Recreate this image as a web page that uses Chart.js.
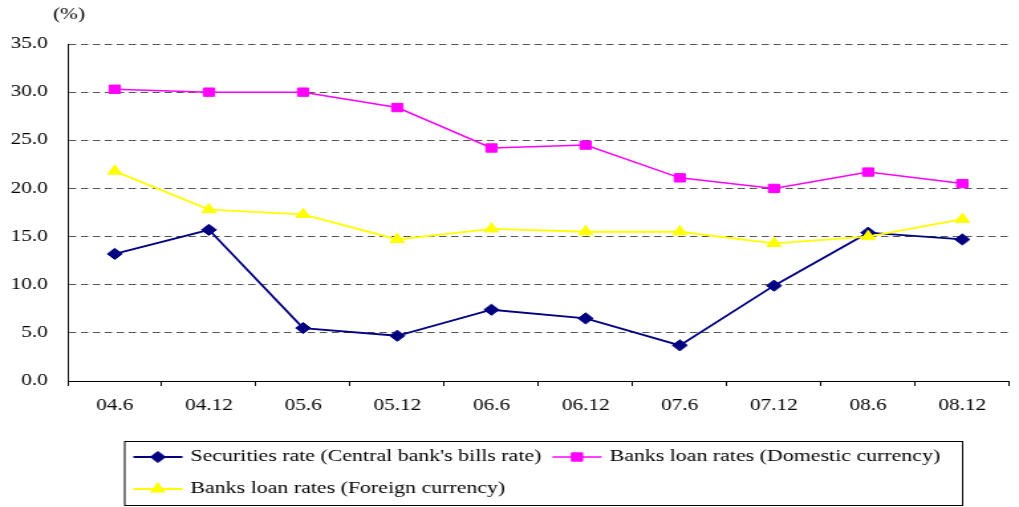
<!DOCTYPE html>
<html>
<head>
<meta charset="utf-8">
<title>Interest rates</title>
<script src="https://cdn.jsdelivr.net/npm/chart.js@4.4.1/dist/chart.umd.min.js"></script>
<style>
  html, body { margin: 0; padding: 0; background: #fff; }
  #rates { display: block; }
</style>
</head>
<body>
<canvas id="rates" width="768" height="507"></canvas>
<script>
// Half-year periods (yy.m)
const periods = ['04.6', '04.12', '05.6', '05.12', '06.6', '06.12', '07.6', '07.12', '08.6', '08.12'];

// Rates, percent
const billsRate    = [13.2, 15.7, 5.5, 4.7, 7.4, 6.5, 3.7, 9.9, 15.4, 14.7];
const loanDomestic = [30.3, 30.0, 30.0, 28.4, 24.2, 24.5, 21.1, 20.0, 21.7, 20.5];
const loanForeign  = [21.8, 17.8, 17.3, 14.7, 15.8, 15.5, 15.5, 14.3, 15.0, 16.8];

const seriesNames = [
  "Securities rate (Central bank's bills rate)",
  'Banks loan rates (Domestic currency)',
  'Banks loan rates (Foreign currency)'
];

// Value axis ticks
const yTicks = [0, 5, 10, 15, 20, 25, 30, 35];
const unitLabel = '(%)';

const SERIF = "'Liberation Serif', 'Times New Roman', serif";

// Framed legend drawn below the plot: line + marker, then the series name
const framedLegend = {
  id: 'framedLegend',
  afterDraw(chart, args, o) {
    const ctx = chart.ctx;
    ctx.save();
    ctx.strokeStyle = '#000';
    ctx.lineWidth = 1;
    ctx.strokeRect(o.left + 0.5, o.top + 0.5, o.right - o.left, o.bottom - o.top);

    ctx.font = o.font;
    ctx.textBaseline = 'middle';
    ctx.textAlign = 'left';
    let x = o.left + o.inset;
    let row = 0;
    chart.data.datasets.forEach(ds => {
      const w = o.lineLen + o.textGap + ctx.measureText(ds.label).width;
      if (x + w > o.right - o.inset && x > o.left + o.inset) {
        row++;
        x = o.left + o.inset;
      }
      const y = o.firstRow + row * o.rowGap;
      ctx.strokeStyle = ds.borderColor;
      ctx.lineWidth = ds.borderWidth;
      ctx.beginPath();
      ctx.moveTo(x, y);
      ctx.lineTo(x + o.lineLen, y);
      ctx.stroke();

      ctx.fillStyle = ds.pointBackgroundColor;
      ctx.strokeStyle = ds.pointBorderColor;
      ctx.lineWidth = 1;
      Chart.helpers.drawPoint(ctx, { pointStyle: ds.pointStyle, radius: ds.pointRadius, borderWidth: 1, rotation: 0 },
        x + o.lineLen / 2, y);

      ctx.fillStyle = '#000';
      ctx.fillText(ds.label, x + o.lineLen + o.textGap, y);
      x += w + o.itemGap;
    });
    ctx.restore();
  }
};

// "(%)" unit note above the value axis
const unitNote = {
  id: 'unitNote',
  afterDraw(chart, args, o) {
    const ctx = chart.ctx;
    ctx.save();
    ctx.font = o.font;
    ctx.fillStyle = '#000';
    ctx.textAlign = 'center';
    ctx.textBaseline = 'middle';
    ctx.fillText(unitLabel, chart.chartArea.left + o.dx, o.y);
    ctx.restore();
  }
};

const canvas = document.getElementById('rates');

new Chart(canvas, {
  type: 'line',
  data: {
    labels: periods,
    datasets: [
      {
        label: seriesNames[0],
        data: billsRate,
        borderColor: '#000080',
        backgroundColor: '#000080',
        pointBackgroundColor: '#000080',
        pointBorderColor: '#000080',
        borderWidth: 1.8,
        pointStyle: 'rectRot',
        pointRadius: 5.6,
        pointBorderWidth: 1,
        order: 2
      },
      {
        label: seriesNames[1],
        data: loanDomestic,
        borderColor: '#ff00ff',
        backgroundColor: '#ff00ff',
        pointBackgroundColor: '#ff00ff',
        pointBorderColor: '#ff00ff',
        borderWidth: 1.5,
        pointStyle: 'rect',
        pointRadius: 5.9,
        pointBorderWidth: 1,
        order: 1
      },
      {
        label: seriesNames[2],
        data: loanForeign,
        borderColor: '#ffff00',
        backgroundColor: '#ffff00',
        pointBackgroundColor: '#ffff00',
        pointBorderColor: '#ffff00',
        borderWidth: 1.8,
        pointStyle: 'triangle',
        pointRadius: 6.2,
        pointBorderWidth: 1,
        order: 0
      }
    ]
  },
  options: {
    responsive: false,
    devicePixelRatio: 1,
    animation: false,
    events: [],
    layout: { padding: { top: 44, right: 1.5, bottom: 0, left: 0 } },
    elements: { line: { tension: 0 } },
    scales: {
      x: {
        type: 'category',
        offset: true,
        afterFit(scale) { scale.height = 126; },
        grid: {
          display: true,
          offset: true,
          drawOnChartArea: false,
          drawTicks: true,
          tickLength: 5,
          color: '#000',
          lineWidth: 1
        },
        border: { display: true, color: '#000', width: 1 },
        ticks: {
          color: '#000',
          padding: 10,
          maxRotation: 0,
          autoSkip: false,
          font: { family: SERIF, size: 16 }
        }
      },
      y: {
        min: yTicks[0],
        max: yTicks[yTicks.length - 1],
        afterFit(scale) { scale.width = 51; },
        afterBuildTicks(scale) { scale.ticks = yTicks.map(v => ({ value: v })); },
        grid: {
          drawTicks: false,
          color: '#555',
          lineWidth: 1
        },
        border: { display: true, color: '#000', width: 1, dash: [5.5, 3.5] },
        ticks: {
          color: '#000',
          padding: 15,
          font: { family: SERIF, size: 16 },
          callback: v => Number(v).toFixed(1)
        }
      }
    },
    plugins: {
      legend: { display: false },
      tooltip: { enabled: false },
      title: { display: false },
      framedLegend: {
        left: 93.5, top: 441, right: 725, bottom: 505,
        inset: 7, lineLen: 37, textGap: 6, itemGap: 8.3,
        firstRow: 457, rowGap: 32,
        font: "16.5px " + SERIF
      },
      unitNote: { font: '16px ' + SERIF, dx: 1, y: 15 }
    }
  },
  plugins: [framedLegend, unitNote]
});

// the chart is drawn on a narrow surface and shown stretched to the page width
canvas.style.width = '1019px';
canvas.style.height = '507px';
</script>
</body>
</html>
